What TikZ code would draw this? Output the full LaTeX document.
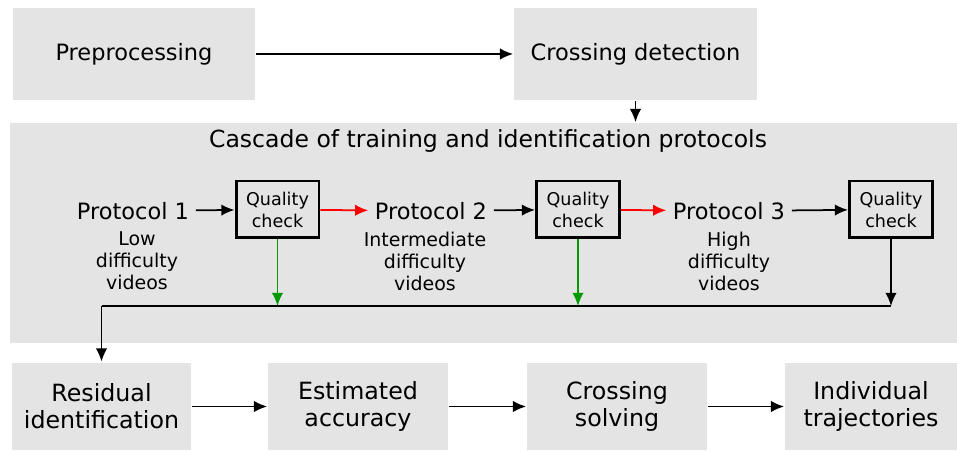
\documentclass[tikz,border=0pt]{standalone}
\usepackage{fontspec}
\setmainfont{DejaVu Sans}
\usetikzlibrary{arrows.meta}
\tikzset{
	stage/.style={fill=gray!21, minimum height=1.76cm, align=center, font=\fontsize{12.8}{15.5}\selectfont},
	qbox/.style={draw, line width=1.7pt, fill=gray!21, minimum width=1.66cm, minimum height=1.14cm, align=center, font=\fontsize{10}{12.5}\selectfont},
	proto/.style={font=\fontsize{12.8}{15}\selectfont},
	level/.style={align=center, font=\fontsize{10.8}{12.5}\selectfont},
	flow/.style={-{Latex[length=7.5pt,width=6.5pt]}},
}
\begin{document}
\begin{tikzpicture}[x=0.02cm, y=-0.02cm, line width=1pt]
		\useasboundingbox (0,0) rectangle (957,452);
		% top row
		\node (pre)[stage, minimum width=4.84cm, minimum height=1.84cm] at (134,54) {Preprocessing};
		\node (det)[stage, minimum width=4.86cm, minimum height=1.84cm] at (635.5,54) {Crossing detection};
		\draw [flow](pre)--(det);
		% cascade
		\node (casc)[fill=gray!21, minimum width=18.94cm, minimum height=4.4cm] at (483.5,233) {};
		\node (title)[proto, font=\fontsize{13.4}{16}\selectfont] at (488,141) {Cascade of training and identification protocols};
		\draw [flow](det)--(det |- casc.north);
		\node (p1)[proto] at (133,211) {Protocol 1};
		\node (p2)[proto] at (431,211) {Protocol 2};
		\node (p3)[proto] at (729,211) {Protocol 3};
		\node (l1)[level] at (137,261) {Low\\difficulty\\videos};
		\node (l2)[level] at (425,261) {Intermediate\\difficulty\\videos};
		\node (l3)[level] at (729,261) {High\\difficulty\\videos};
		\node (q1)[qbox] at (277.5,209.5) {Quality\\check};
		\node (q2)[qbox] at (578,209.5) {Quality\\check};
		\node (q3)[qbox] at (891,209.5) {Quality\\check};
		\draw [flow](p1)--(q1);
		\draw [flow](p2)--(q2);
		\draw [flow](p3)--(q3);
		\draw [flow, red](q1)--(p2);
		\draw [flow, red](q2)--(p3);
		% collecting line
		\coordinate (busR) at (891,306);
		\coordinate (busL) at (101.5,306);
		\draw [flow, green!60!black](q1.south)--(q1.south |- busL);
		\draw [flow, green!60!black](q2.south)--(q2.south |- busL);
		\draw [flow](q3.south)--(busR);
		% bottom row
		\node (res)[stage, minimum width=3.58cm, font=\fontsize{13.5}{15.5}\selectfont] at (101.5,406.5) {Residual\\identification};
		\node (acc)[stage, minimum width=3.6cm, font=\fontsize{13.5}{15.5}\selectfont] at (358,406.5) {Estimated\\accuracy};
		\node (sol)[stage, minimum width=3.6cm, font=\fontsize{13.5}{15.5}\selectfont] at (617,406.5) {Crossing\\solving};
		\node (traj)[stage, minimum width=3.44cm, font=\fontsize{13.5}{15.5}\selectfont] at (871,406.5) {Individual\\trajectories};
		\draw (busR)--(busL);
		\draw [flow](busL)--(res);
		\draw [flow](res)--(acc);
		\draw [flow](acc)--(sol);
		\draw [flow](sol)--(traj);
	\end{tikzpicture}
\end{document}
